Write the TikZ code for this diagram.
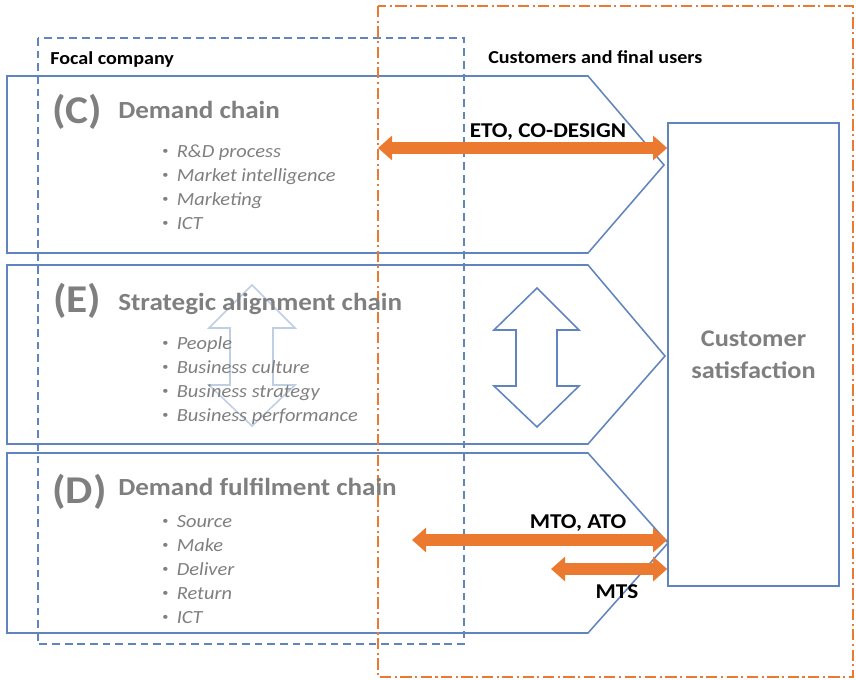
\documentclass[tikz,border=0pt]{standalone}
\usepackage{fontspec}
\setmainfont{Carlito}[FakeStretch=1.1]
\usetikzlibrary{arrows.meta,positioning}
\definecolor{chainblue}{RGB}{96,132,190}
\definecolor{chaingray}{RGB}{127,127,127}
\definecolor{floworange}{RGB}{235,122,48}
\newcommand{\itembullet}{\raisebox{0.3ex}{\fontsize{8}{8}\selectfont\textbullet}\hspace{0.45em}}
\tikzset{
  chain/.style={draw=chainblue, line width=1.1pt, line join=miter},
  letter/.style={font=\fontsize{28}{28}\selectfont\bfseries, text=chaingray, anchor=base west, inner sep=0pt},
  title/.style={font=\fontsize{17.5}{17.5}\selectfont\bfseries, text=chaingray, anchor=base west, inner sep=0pt},
  item/.style={font=\fontsize{13.2}{13.2}\selectfont, text=chaingray, anchor=base west, inner sep=0pt},
  header/.style={font=\fontsize{13}{13}\selectfont\bfseries, anchor=base west, inner sep=0pt},
  flow/.style={draw=floworange, line width=8.5pt, {Triangle[width=17pt,length=10pt]}-{Triangle[width=17pt,length=10pt]}},
  flowlabel/.style={font=\fontsize{15}{15}\selectfont\bfseries, anchor=base, inner sep=0pt},
  custbox/.style={draw=chainblue, line width=1.1pt, fill=white, minimum width=4.275cm, minimum height=11.575cm,
    align=center, text=chaingray, font=\fontsize{17}{23}\selectfont\bfseries},
}
\begin{document}
\begin{tikzpicture}[x=0.025cm, y=-0.025cm]
\useasboundingbox (0,0) rectangle (856,679);

% Chains
\draw[chain] (7,76) -- (588,76) -- (664,165) -- (588,253) -- (7,253) -- cycle;
\draw[chain] (7,265) -- (588,265) -- (665,356) -- (588,444) -- (7,444) -- cycle;
\draw[chain] (7,453) -- (588,453) -- (668,543) -- (588,633) -- (7,633) -- cycle;

% Boundaries
\draw[draw=chainblue, line width=1.1pt, dash pattern=on 5.5pt off 3.5pt] (38,38) rectangle (464,644);
\draw[draw=floworange, line width=1.1pt, dash pattern=on 8pt off 2.5pt on 1.5pt off 2.5pt] (378,6) rectangle (853,677);
\node[header] (focal) at (50,64) {Focal company};
\node[header] (users) at (488,63) {Customers and final users};

% Alignment arrows
\draw[draw=chainblue!40, line width=1.1pt] (252,285) -- (295,328) -- (273,328) -- (273,385) -- (295,385) -- (252,426)
  -- (209,385) -- (230,385) -- (230,328) -- (209,328) -- cycle;
\draw[chain] (537,288) -- (579,330) -- (557,330) -- (557,386) -- (579,386) -- (537,427)
  -- (494,386) -- (516,386) -- (516,330) -- (494,330) -- cycle;

% Demand chain
\node[letter] (c) at (52,123) {(C)};
\node[title] (ctitle) at (118,118) {Demand chain};
\foreach \txt [count=\i] in {R\&D process, Market intelligence, Marketing, ICT}
  \node[item] (c\i) at (162,{133+24*\i}) {\itembullet\textit{\txt}};

% Strategic alignment chain
\node[letter] (e) at (53,312) {(E)};
\node[title] (etitle) at (118,310) {Strategic alignment chain};
\foreach \txt [count=\i] in {People, Business culture, Business strategy, Business performance}
  \node[item] (e\i) at (162,{325+24*\i}) {\itembullet\textit{\txt}};

% Demand fulfilment chain
\node[letter] (d) at (52,503) {(D)};
\node[title] (dtitle) at (118,495) {Demand fulfilment chain};
\foreach \txt [count=\i] in {Source, Make, Deliver, Return, ICT}
  \node[item] (d\i) at (162,{503+24*\i}) {\itembullet\textit{\txt}};

% Customer
\node[custbox] (cust) at (753.5,354.5) {Customer\\satisfaction};

% Flows
\coordinate (eto) at (378,148);
\coordinate (mto) at (412,540);
\coordinate (mts) at (551,569);
\draw[flow] (eto) -- (eto -| cust.west);
\draw[flow] (mto) -- (mto -| cust.west);
\draw[flow] (mts) -- (mts -| cust.west);
\node[flowlabel] (etolabel) at (548,137) {ETO, CO-DESIGN};
\node[flowlabel] (mtolabel) at (578,528) {MTO, ATO};
\node[flowlabel] (mtslabel) at (617,598) {MTS};
\end{tikzpicture}
\end{document}
